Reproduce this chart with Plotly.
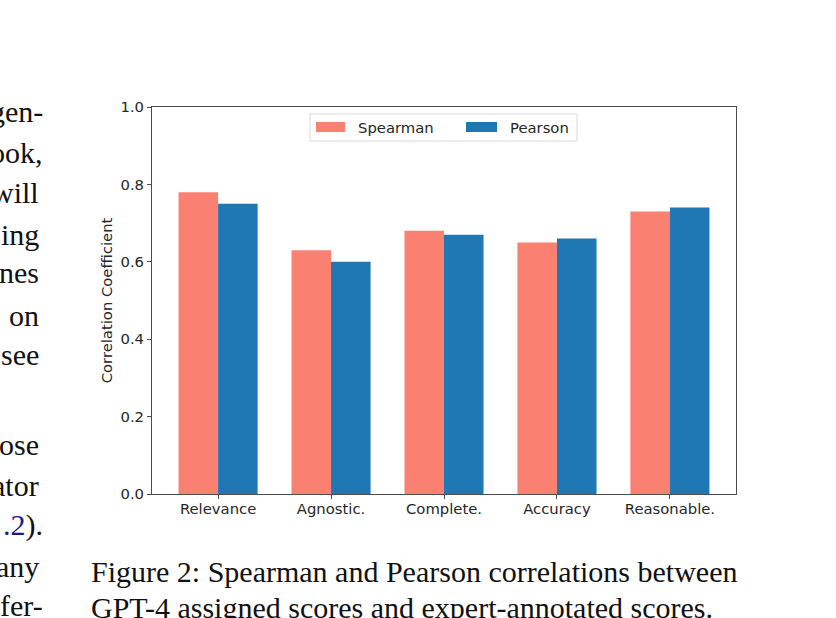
import plotly.graph_objects as go

categories = ["Relevance", "Agnostic.", "Complete.", "Accuracy", "Reasonable."]
spearman = [0.78, 0.63, 0.68, 0.65, 0.73]
pearson = [0.75, 0.60, 0.67, 0.66, 0.74]
series_names = ["Spearman", "Pearson"]
y_ticks = [0.0, 0.2, 0.4, 0.6, 0.8, 1.0]

left_lines = ["gen-", "ook,", "will", "ing", "nes", "on", "see", "", "ose", "ator",
              '<span style="color:#1a1a8c">.2</span>).', "any", "fer-"]
caption_lines = ["Figure 2: Spearman and Pearson correlations between",
                 "GPT-4 assigned scores and expert-annotated scores."]

SALMON = "#FA8072"
BLUE = "#1F77B4"

W, H = 836, 618
L, R, T, B = 152, 736, 107, 494
PW, PH = R - L, B - T


def px(x):
    return (x - L) / PW


def py(y):
    return (B - y) / PH


xs = list(range(len(categories)))

fig = go.Figure()
fig.add_trace(go.Bar(x=xs, y=spearman, name=series_names[0], marker_color=SALMON,
                     marker_line_width=0, offset=-0.35, width=0.35, showlegend=False))
fig.add_trace(go.Bar(x=xs, y=pearson, name=series_names[1], marker_color=BLUE,
                     marker_line_width=0, offset=0.0, width=0.35, showlegend=False))

axis_font = dict(family="DejaVu Sans", size=14.8, color="#262626")

fig.update_layout(
    width=W, height=H,
    margin=dict(l=L, r=W - R, t=T, b=H - B, autoexpand=False),
    paper_bgcolor="white", plot_bgcolor="white",
    bargap=0.3,
    xaxis=dict(range=[-0.585, 4.585], tickvals=xs, ticktext=categories,
               showgrid=False, zeroline=False, showline=True, linecolor="#4d4d4d",
               linewidth=1, mirror=True, ticks="outside", ticklen=4, tickcolor="#4d4d4d",
               tickfont=axis_font, ticklabelstandoff=-3),
    yaxis=dict(range=[0, 1.0], tickvals=y_ticks, ticktext=[f"{v:.1f}" for v in y_ticks],
               showgrid=False, zeroline=False, showline=True, linecolor="#4d4d4d",
               linewidth=1, mirror=True, ticks="outside", ticklen=4, tickcolor="#4d4d4d",
               tickfont=axis_font,
               title=dict(text="Correlation Coefficient", font=axis_font, standoff=4)),
)

# Legend (matplotlib style, upper center)
shapes = []
annots = []
shapes.append(dict(type="rect", xref="paper", yref="paper", x0=px(310), x1=px(577),
                   y0=py(141), y1=py(114), line=dict(color="#d9d9d9", width=1),
                   fillcolor="rgba(255,255,255,0.8)", layer="above"))
shapes.append(dict(type="rect", xref="paper", yref="paper", x0=px(316), x1=px(345),
                   y0=py(132), y1=py(122), line=dict(width=0), fillcolor=SALMON, layer="above"))
shapes.append(dict(type="rect", xref="paper", yref="paper", x0=px(466), x1=px(497),
                   y0=py(132), y1=py(122), line=dict(width=0), fillcolor=BLUE, layer="above"))
annots.append(dict(text=series_names[0], xref="paper", yref="paper", x=px(356), y=py(127),
                   xanchor="left", yanchor="middle", showarrow=False, font=axis_font))
annots.append(dict(text=series_names[1], xref="paper", yref="paper", x=px(508), y=py(127),
                   xanchor="left", yanchor="middle", showarrow=False, font=axis_font))

# Surrounding page text
serif = dict(family="Liberation Serif", size=30, color="#111111")
centers = [112, 152, 192, 234, 272, 315, 354, 395, 444, 485, 525, 566, 605]
for txt, cy in zip(left_lines, centers):
    if not txt:
        continue
    rx = 45 if txt.endswith("-") or txt.endswith(",") or txt.endswith(").") else 41
    annots.append(dict(text=txt, xref="paper", yref="paper", x=px(rx), y=py(cy),
                       xanchor="right", yanchor="middle", showarrow=False, font=serif))

cap_centers = [571, 607]
for txt, cy in zip(caption_lines, cap_centers):
    annots.append(dict(text=txt, xref="paper", yref="paper", x=px(89), y=py(cy),
                       xanchor="left", yanchor="middle", showarrow=False, font=serif))

fig.update_layout(shapes=shapes, annotations=annots)
fig.write_html("out.html")
